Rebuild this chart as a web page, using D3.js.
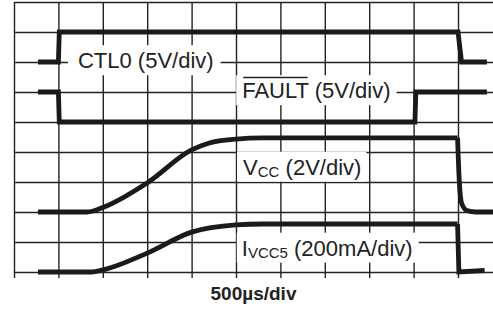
<!DOCTYPE html>
<html>
<head>
<meta charset="utf-8">
<script src="https://cdn.jsdelivr.net/npm/d3@7"></script>
<style>
	html, body { margin: 0; padding: 0; background: #fff; }
	svg { display: block; }
	text { font-family: "Liberation Sans", Arial, Helvetica, sans-serif; fill: #222; }
</style>
</head>
<body>
<div id="chart"></div>
<script>
'use strict';

// time in divisions (500us/div), level in vertical divisions from the bottom line
var ctl0 = [[0.54, 7], [1.0, 7], [1.02, 8], [10.0, 8], [10.08, 7], [10.65, 7]];
var fault = [[0.54, 6], [1.0, 6], [1.02, 5], [9.03, 5], [9.05, 6], [10.65, 6]];
var vcc = [[0.54, 2], [1.65, 2], [2.0, 2.15], [3.0, 2.97], [4.0, 4.07], [4.4, 4.3],
	[5.0, 4.43], [5.6, 4.47], [9.99, 4.47]];
var vccFall = [[9.99, 4.47], [10.03, 3.0], [10.08, 2.3], [10.2, 2.05], [10.4, 2.0], [10.8, 2.0]];
var ivcc5 = [[0.54, 0], [1.75, 0], [2.0, 0.07], [3.0, 0.63], [4.0, 1.33], [5.0, 1.57],
	[5.6, 1.6], [9.99, 1.6]];
var ivcc5Fall = [[9.99, 1.6], [10.02, 0], [10.6, 0.05]];

var xDivs = d3.range(0, 11);
var yDivs = d3.range(0, 10);
var timeLabel = '500\u00b5s/div';

var W = 493, H = 312;

var svg = d3.select('#chart').append('svg')
	.attr('width', W)
	.attr('height', H);

svg.append('rect').attr('width', W).attr('height', H).attr('fill', '#fff');

var x = d3.scaleLinear().domain([0, 10]).range([14, 458]);
var y = d3.scaleLinear().domain([0, 9]).range([272, 2]);

// grid: vertical lines (with a short tick below the bottom line)
var xGrid = svg.append('g')
	.attr('transform', 'translate(0,278)')
	.call(d3.axisTop(x).tickValues(xDivs).tickSize(276).tickFormat(''));
var yGrid = svg.append('g')
	.attr('transform', 'translate(14,0)')
	.call(d3.axisLeft(y).tickValues(yDivs).tickSize(-(W - 14)).tickFormat(''));

[xGrid, yGrid].forEach(function(g) {
	g.select('.domain').remove();
	g.selectAll('line').attr('stroke', '#222').attr('stroke-width', 1.4);
});

var boxLayer = svg.append('g');
var traceLayer = svg.append('g');
var textLayer = svg.append('g');

var line = d3.line()
	.x(function(d) { return x(d[0]); })
	.y(function(d) { return y(d[1]); });

function trace(data, curve) {
	traceLayer.append('path')
		.datum(data)
		.attr('d', line.curve(curve))
		.attr('fill', 'none')
		.attr('stroke', '#1a1a1a')
		.attr('stroke-width', 4.8)
		.attr('stroke-linejoin', 'miter');
}

trace(ctl0, d3.curveLinear);
trace(fault, d3.curveLinear);
trace(vcc, d3.curveMonotoneX);
trace(vccFall, d3.curveMonotoneX);
trace(ivcc5, d3.curveMonotoneX);
trace(ivcc5Fall, d3.curveLinear);

// labels: parts are [text, small?]
function label(parts, tx, ty, padL, padR) {
	var t = textLayer.append('text')
		.attr('x', x(tx))
		.attr('y', y(ty))
		.attr('dy', '0.35em')
		.style('font-size', '22px');
	var shifted = false;
	parts.forEach(function(p) {
		var s = t.append('tspan').text(p[0]);
		if (p[1]) {
			s.style('font-size', '15px').attr('dy', shifted ? null : 2);
			shifted = true;
		} else if (shifted) {
			s.attr('dy', -2);
			shifted = false;
		}
	});
	var bb = t.node().getBBox();
	boxLayer.append('rect')
		.attr('x', bb.x - padL)
		.attr('y', bb.y - 3)
		.attr('width', bb.width + padL + padR)
		.attr('height', bb.height + 5)
		.attr('fill', '#fff');
	return t;
}

label([['CTL0 (5V/div)']], 1.44, 7.05, 10, 7);
var ft = label([['FAULT (5V/div)']], 5.14, 6.05, 6, 6);
label([['V'], ['CC', true], [' (2V/div)']], 5.16, 3.5, 6, 5);
label([['I'], ['VCC5', true], [' (200mA/div)']], 5.13, 0.8, 5, 6);

// overline on FAULT
var fnode = ft.select('tspan').node();
var fx0 = x(5.14);
var fw = fnode.getSubStringLength(0, 5);
textLayer.append('line')
	.attr('x1', fx0 + 1)
	.attr('x2', fx0 + fw - 1)
	.attr('y1', y(6.05) - 13)
	.attr('y2', y(6.05) - 13)
	.attr('stroke', '#222')
	.attr('stroke-width', 1.3);

svg.append('text')
	.attr('x', 253.5)
	.attr('y', 300)
	.attr('text-anchor', 'middle')
	.style('font-size', '19px')
	.style('font-weight', 'bold')
	.text(timeLabel);
</script>
</body>
</html>
